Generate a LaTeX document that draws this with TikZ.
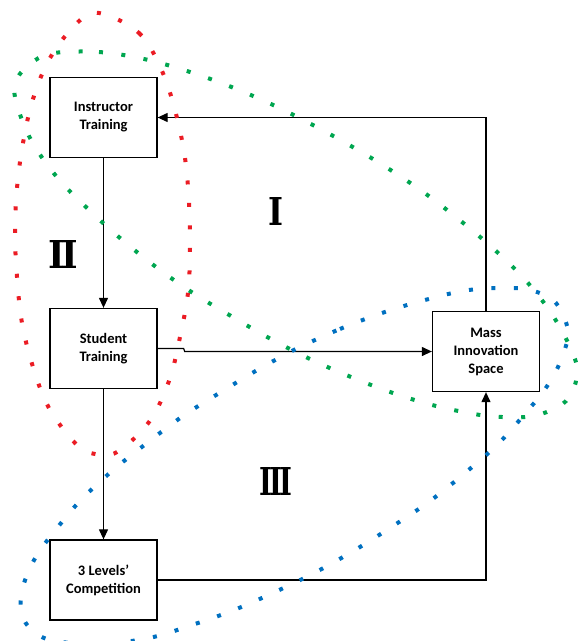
\documentclass[tikz,border=0pt]{standalone}
\usepackage{fontspec}
\usepackage{graphicx}
\newfontfamily\boxfont{Carlito}
\newfontfamily\numfont{DejaVu Serif}
\usetikzlibrary{arrows.meta}
\definecolor{dred}{RGB}{235,28,36}
\definecolor{dgreen}{RGB}{0,166,80}
\definecolor{dblue}{RGB}{0,112,192}
\begin{document}
\begin{tikzpicture}[x=1pt,y=-1pt,
 box/.style={draw,line width=1.3pt,minimum width=107pt,minimum height=80pt,inner sep=0pt,align=center,font=\boxfont\bfseries\fontsize{14.5}{18}\selectfont},
 conn/.style={line width=1.2pt,-{Triangle[length=10pt,width=9pt]}},
 dots/.style={line width=4pt,dash pattern=on 4pt off 18.5pt},
 numeral/.style={inner sep=0pt,font=\numfont\bfseries}]
\useasboundingbox (0,0) rectangle (578,641);
\node[box] (it) at (103.5,117.5) {Instructor\\Training};
\node[box] (st) at (103.5,348.5) {Student\\Training};
\node[box] (lc) at (103.5,580) {3 Levels’\\Competition};
\node[box] (mi) at (486,351.5) {Mass\\Innovation\\Space};
\draw[conn] (it) -- (st);
\draw[conn] (st) -- (lc);
\draw[conn] (st.east) -- ++(26,0) -- ++(1,3) -- (mi.west);
\draw[conn] (mi.north) -- (mi.north |- it.east) -- (it.east);
\draw[conn] (lc.east) -- (lc.east -| mi.south) -- (mi.south);
\node[numeral] (n1) at (275.5,211) {\resizebox{15pt}{28pt}{I}};
\node[numeral] (n2) at (63.5,254) {\resizebox{29pt}{28pt}{I\kern-0.12em I}};
\node[numeral] (n3) at (276,481) {\resizebox{32pt}{28pt}{I\kern-0.12em I\kern-0.12em I}};
\draw[dots,dred] plot[smooth cycle,tension=0.6] coordinates {
 (99,13) (139,33) (162,71) (176,114) (185,158) (189,203) (190,248) (188,293)
 (180,337) (169,381) (149,422) (117,452) (95,454) (76,444) (49,408) (33,367)
 (22,323) (17,277) (15,233) (17,188) (23,143) (33,99) (50,58) (77,23)};
\draw[dots,dgreen] plot[smooth cycle,tension=0.6] coordinates {
 (54,53) (99,52) (144,59) (187,71) (229,86) (271,104) (311,124) (351,146)
 (389,169) (426,194) (462,222) (496,251) (528,283) (555,319) (575,359) (576,381)
 (566,401) (547,412) (525,417) (502,417) (480,415) (436,406) (393,393) (351,377)
 (310,359) (269,338) (231,316) (193,293) (156,267) (120,238) (87,208) (56,176)
 (30,138) (15,97) (18,77) (34,61)};
\draw[dots,dblue] plot[smooth cycle,tension=0.6] coordinates {
 (300,347) (340,329) (382,313) (425,300) (469,290) (514,288) (537,292) (556,303)
 (568,330) (564,352) (555,373) (543,392) (529,409) (499,443) (465,473) (430,501)
 (393,526) (355,550) (316,572) (275,592) (234,610) (192,625) (149,638) (100,644)
 (62,642) (38,635) (23,618) (21,596) (27,575) (37,555) (50,537) (79,502)
 (112,471) (147,443) (183,416) (221,392) (259,369) (279,358)};
\end{tikzpicture}
\end{document}
